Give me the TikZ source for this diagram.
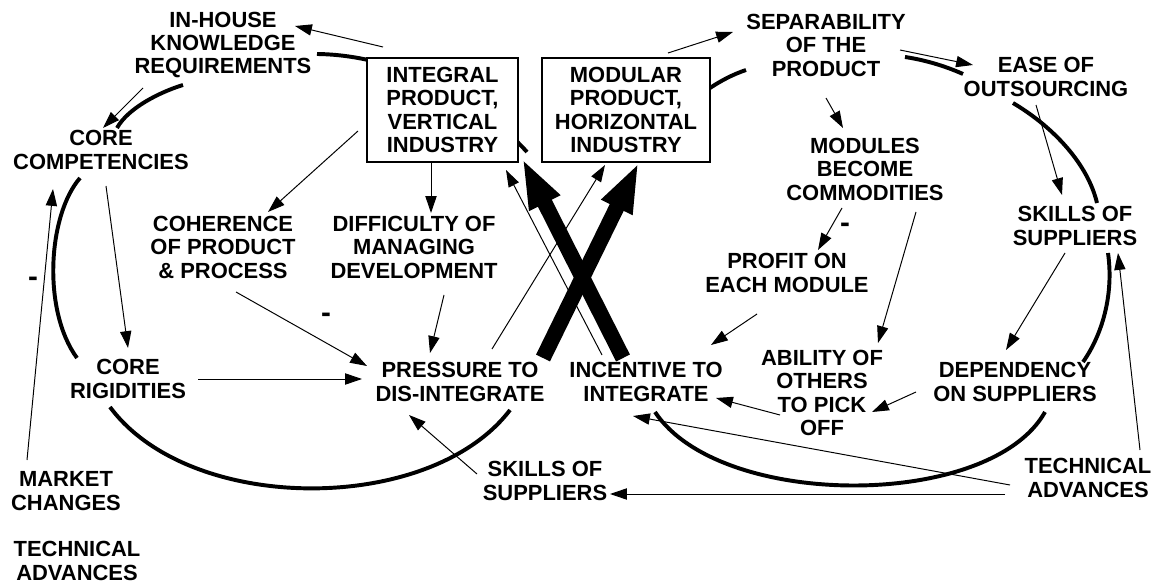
\documentclass[tikz,border=0pt]{standalone}
\usepackage{fontspec}
\setmainfont{Liberation Sans}
\usetikzlibrary{arrows.meta}

\tikzset{
  lbl/.style={font=\bfseries\fontsize{15.6}{16.7}\selectfont, align=center, inner sep=1pt},
  sign/.style={font=\bfseries\fontsize{21}{21}\selectfont, inner sep=1pt},
  prodbox/.style={lbl, draw, line width=0.8pt, fill=white, minimum height=2.6cm},
  arr/.style={line width=0.7pt, -{Triangle[length=12pt,width=8pt]}},
  bigarr/.style={line width=11pt, -{Triangle[length=36pt,width=22pt]}},
  helix/.style={line width=2.8pt},
}

\begin{document}
\begin{tikzpicture}[x=0.025cm, y=-0.025cm]
  \useasboundingbox (0,0) rectangle (1158,583);

  % left loop of the helix
  \draw[helix] (317,54) .. controls (400,55) and (480,100) .. (527,152);
  \draw[helix] (183,85) .. controls (160,92) and (128,108) .. (117,128);
  \draw[helix] (80,178) .. controls (48,215) and (42,310) .. (77,358);
  \draw[helix] (110,407) .. controls (190,515) and (430,515) .. (510,410);

  % right loop of the helix
  \draw[helix] (710,88) .. controls (722,80) and (734,74) .. (746,70);
  \draw[helix] (905,57) .. controls (925,60) and (945,66) .. (963,74);
  \draw[helix] (1013,103) .. controls (1055,128) and (1088,165) .. (1097,203);
  \draw[helix] (1108,253) .. controls (1114,295) and (1102,335) .. (1083,362);
  \draw[helix] (1045,412) .. controls (990,510) and (720,510) .. (655,412);

  % the two industry structures
  \node[prodbox, minimum width=3.775cm] (integral) at (442.5,110) {INTEGRAL\\PRODUCT,\\VERTICAL\\INDUSTRY};
  \node[prodbox, minimum width=4.2cm] (modular) at (626,110) {MODULAR\\PRODUCT,\\HORIZONTAL\\INDUSTRY};

  % left side
  \node[lbl] (inhouse) at (223,45) {IN-HOUSE\\KNOWLEDGE\\REQUIREMENTS};
  \node[lbl] (corecomp) at (101,150) {CORE\\COMPETENCIES};
  \node[lbl] (coher) at (223,247) {COHERENCE\\OF PRODUCT\\\& PROCESS};
  \node[lbl] (diffic) at (414,247) {DIFFICULTY OF\\MANAGING\\DEVELOPMENT};
  \node[lbl] (rigid) at (128,379) {CORE\\RIGIDITIES};
  \node[lbl] (pressure) at (460,382) {PRESSURE TO\\DIS-INTEGRATE};
  \node[lbl] (market) at (66,491) {MARKET\\CHANGES};
  \node[lbl] (techL) at (77,561) {TECHNICAL\\ADVANCES};
  \node[lbl] (skillsB) at (545,481) {SKILLS OF\\SUPPLIERS};

  % right side
  \node[lbl] (separ) at (826,45) {SEPARABILITY\\OF THE\\PRODUCT};
  \node[lbl] (ease) at (1046,77) {EASE OF\\OUTSOURCING};
  \node[lbl] (modules) at (865,169) {MODULES\\BECOME\\COMMODITIES};
  \node[lbl] (skillsR) at (1075,226) {SKILLS OF\\SUPPLIERS};
  \node[lbl] (profit) at (787,273) {PROFIT ON\\EACH MODULE};
  \node[lbl] (incent) at (646,382) {INCENTIVE TO\\INTEGRATE};
  \node[lbl] (ability) at (822,393) {ABILITY OF\\OTHERS\\TO PICK\\OFF};
  \node[lbl] (depend) at (1015,382) {DEPENDENCY\\ON SUPPLIERS};
  \node[lbl] (techR) at (1088,478) {TECHNICAL\\ADVANCES};

  % signs
  \node[sign] (minusA) at (33,282) {-};
  \node[sign] (minusB) at (326,318) {-};
  \node[sign] (minusC) at (845,228) {-};

  % the crossing
  \draw[bigarr] ([shift={(83,-24)}]pressure.center) -- ([shift={(13,52)}]modular.center);
  \draw[bigarr] ([shift={(-23,-24)}]incent.center) -- ([shift={(79.5,48)}]integral.center);

  % links, left
  \draw[arr] ([shift={(-59.5,-63)}]integral.center) -- ([shift={(72,-19)}]inhouse.center);
  \draw[arr] ([shift={(-80,43)}]inhouse.center) -- ([shift={(2,-22)}]corecomp.center);
  \draw[arr] ([shift={(-84.5,21)}]integral.center) -- ([shift={(45,-35)}]coher.center);
  \draw[arr] ([shift={(-11.5,53)}]integral.center) -- ([shift={(17,-34)}]diffic.center);
  \draw[arr] ([shift={(5,36)}]corecomp.center) -- ([shift={(0,-31)}]rigid.center);
  \draw[arr] ([shift={(-39,-31)}]market.center) -- ([shift={(-48,39)}]corecomp.center);
  \draw[arr] ([shift={(13,45)}]coher.center) -- ([shift={(-93,-16)}]pressure.center);
  \draw[arr] ([shift={(70,0)}]rigid.center) -- ([shift={(-98,-3)}]pressure.center);
  \draw[arr] ([shift={(30,48)}]diffic.center) -- ([shift={(-30,-29)}]pressure.center);
  \draw[arr] ([shift={(-68,-7)}]skillsB.center) -- ([shift={(-51,33)}]pressure.center);
  \draw[arr] ([shift={(32,-33)}]pressure.center) -- ([shift={(-21,55)}]modular.center);
  \draw[arr] ([shift={(-44,-27)}]incent.center) -- ([shift={(63.5,60)}]integral.center);

  % links, right
  \draw[arr] ([shift={(42,-57)}]modular.center) -- ([shift={(-93,-13)}]separ.center);
  \draw[arr] ([shift={(74,5)}]separ.center) -- ([shift={(-73,-12)}]ease.center);
  \draw[arr] ([shift={(0,53)}]separ.center) -- ([shift={(-22,-41)}]modules.center);
  \draw[arr] ([shift={(-10,28)}]ease.center) -- ([shift={(-13,-31)}]skillsR.center);
  \draw[arr] ([shift={(-23,39)}]modules.center) -- ([shift={(31,-23)}]profit.center);
  \draw[arr] ([shift={(51,43)}]modules.center) -- ([shift={(56,-50)}]ability.center);
  \draw[arr] ([shift={(-10,27)}]skillsR.center) -- ([shift={(-9,-32)}]depend.center);
  \draw[arr] ([shift={(52,-28)}]techR.center) -- ([shift={(43,27)}]skillsR.center);
  \draw[arr] ([shift={(-99,10)}]depend.center) -- ([shift={(50,19)}]ability.center);
  \draw[arr] ([shift={(-30,41)}]profit.center) -- ([shift={(65,-37)}]incent.center);
  \draw[arr] ([shift={(-42,22)}]ability.center) -- ([shift={(70,16)}]incent.center);
  \draw[arr] ([shift={(-78,7)}]techR.center) -- ([shift={(-13,34)}]incent.center);
  \draw[arr] ([shift={(-83,16)}]techR.center) -- ([shift={(65,13)}]skillsB.center);
\end{tikzpicture}
\end{document}
